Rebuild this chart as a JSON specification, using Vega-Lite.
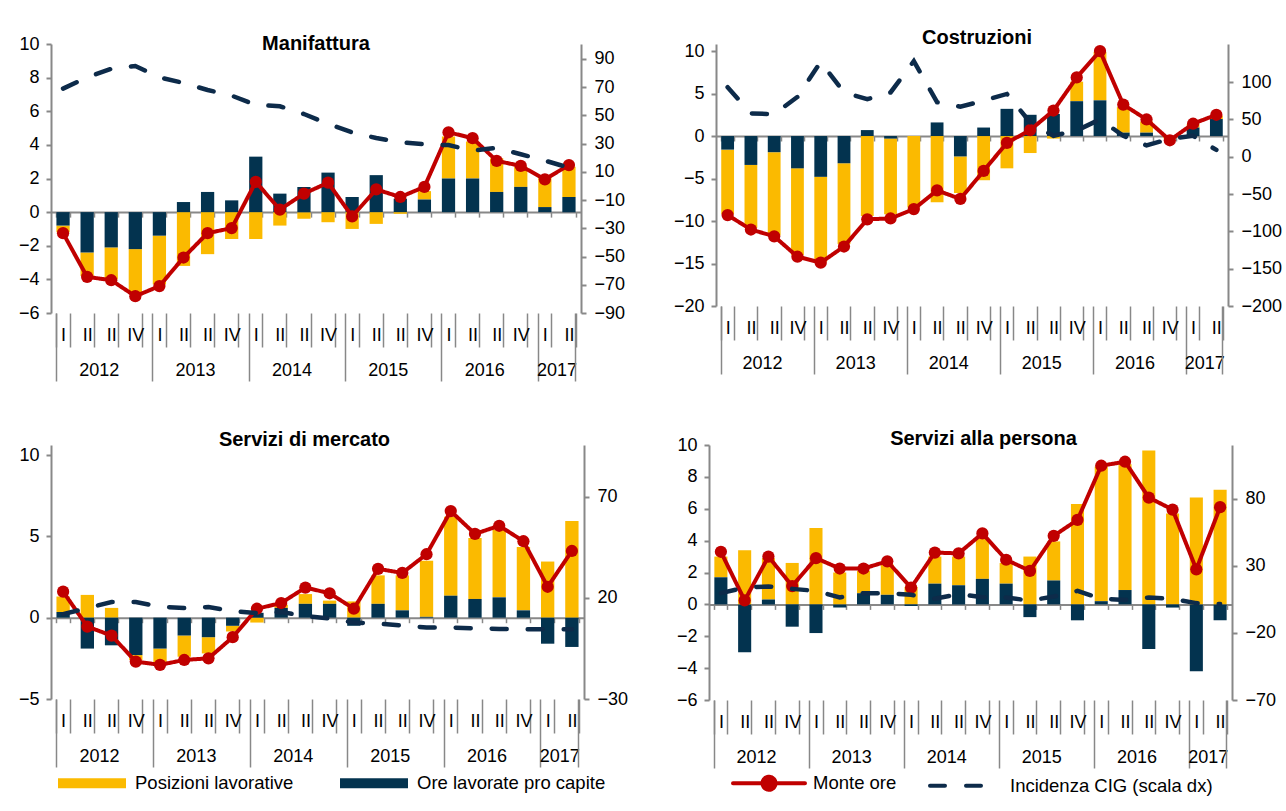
{
"$schema": "https://vega.github.io/schema/vega-lite/v6.json",
"background": "white",
"padding": {"left": 18, "top": 28, "right": 0, "bottom": 0},
"config": {"view": {"stroke": null}, "font": "Liberation Sans", "axis": {"labelFont": "Liberation Sans", "labelColor": "#000", "grid": false}, "legend": {"labelFont": "Liberation Sans", "labelColor": "#000"}},
"datasets": {
"man": [
{"q":"2012-1","pos":-0.4,"ore":-0.8,"monte":-1.25,"cig":69},
{"q":"2012-2","pos":-1.4,"ore":-2.4,"monte":-3.85,"cig":77},
{"q":"2012-3","pos":-1.9,"ore":-2.1,"monte":-4.05,"cig":83},
{"q":"2012-4","pos":-2.6,"ore":-2.2,"monte":-5.0,"cig":85},
{"q":"2013-1","pos":-2.9,"ore":-1.4,"monte":-4.4,"cig":77},
{"q":"2013-2","pos":-3.2,"ore":0.6,"monte":-2.7,"cig":73},
{"q":"2013-3","pos":-2.5,"ore":1.2,"monte":-1.25,"cig":68},
{"q":"2013-4","pos":-1.6,"ore":0.7,"monte":-0.95,"cig":64},
{"q":"2014-1","pos":-1.6,"ore":3.3,"monte":1.8,"cig":57.5},
{"q":"2014-2","pos":-0.8,"ore":1.1,"monte":0.15,"cig":56.5},
{"q":"2014-3","pos":-0.4,"ore":1.5,"monte":1.1,"cig":51},
{"q":"2014-4","pos":-0.6,"ore":2.35,"monte":1.75,"cig":44},
{"q":"2015-1","pos":-1.0,"ore":0.9,"monte":-0.25,"cig":38},
{"q":"2015-2","pos":-0.7,"ore":2.2,"monte":1.35,"cig":34},
{"q":"2015-3","pos":-0.1,"ore":0.8,"monte":0.9,"cig":31},
{"q":"2015-4","pos":0.5,"ore":0.75,"monte":1.5,"cig":29.5},
{"q":"2016-1","pos":2.5,"ore":2.0,"monte":4.75,"cig":29},
{"q":"2016-2","pos":2.2,"ore":2.0,"monte":4.4,"cig":25},
{"q":"2016-3","pos":2.0,"ore":1.2,"monte":3.05,"cig":27},
{"q":"2016-4","pos":1.2,"ore":1.5,"monte":2.75,"cig":22.5},
{"q":"2017-1","pos":1.8,"ore":0.3,"monte":1.95,"cig":18},
{"q":"2017-2","pos":1.8,"ore":0.9,"monte":2.8,"cig":13}
],
"cos": [
{"q":"2012-1","pos":-7.6,"ore":-1.6,"monte":-9.3,"cig":93},
{"q":"2012-2","pos":-7.4,"ore":-3.4,"monte":-11.0,"cig":58},
{"q":"2012-3","pos":-9.8,"ore":-1.9,"monte":-11.8,"cig":57},
{"q":"2012-4","pos":-10.2,"ore":-3.8,"monte":-14.2,"cig":80},
{"q":"2013-1","pos":-10.0,"ore":-4.8,"monte":-14.9,"cig":127},
{"q":"2013-2","pos":-9.5,"ore":-3.2,"monte":-13.0,"cig":86},
{"q":"2013-3","pos":-9.4,"ore":0.7,"monte":-9.8,"cig":77},
{"q":"2013-4","pos":-8.9,"ore":-0.3,"monte":-9.7,"cig":86},
{"q":"2014-1","pos":-8.4,"ore":0.0,"monte":-8.6,"cig":128},
{"q":"2014-2","pos":-7.8,"ore":1.6,"monte":-6.4,"cig":73},
{"q":"2014-3","pos":-4.3,"ore":-2.4,"monte":-7.4,"cig":67},
{"q":"2014-4","pos":-5.2,"ore":1.0,"monte":-4.1,"cig":75},
{"q":"2015-1","pos":-3.8,"ore":3.2,"monte":-0.8,"cig":84},
{"q":"2015-2","pos":-2.0,"ore":2.5,"monte":0.7,"cig":46},
{"q":"2015-3","pos":-0.3,"ore":2.6,"monte":3.0,"cig":28},
{"q":"2015-4","pos":2.3,"ore":4.1,"monte":6.9,"cig":35},
{"q":"2016-1","pos":5.7,"ore":4.2,"monte":10.0,"cig":50},
{"q":"2016-2","pos":3.0,"ore":0.4,"monte":3.7,"cig":28},
{"q":"2016-3","pos":1.3,"ore":0.4,"monte":1.95,"cig":15},
{"q":"2016-4","pos":-0.3,"ore":0.0,"monte":-0.5,"cig":24},
{"q":"2017-1","pos":0.4,"ore":1.0,"monte":1.45,"cig":28},
{"q":"2017-2","pos":0.4,"ore":2.0,"monte":2.5,"cig":9}
],
"sdm": [
{"q":"2012-1","pos":0.95,"ore":0.35,"monte":1.6,"cig":12},
{"q":"2012-2","pos":1.4,"ore":-1.9,"monte":-0.55,"cig":15},
{"q":"2012-3","pos":0.6,"ore":-1.7,"monte":-1.1,"cig":18},
{"q":"2012-4","pos":-0.3,"ore":-2.3,"monte":-2.7,"cig":18},
{"q":"2013-1","pos":-0.9,"ore":-1.9,"monte":-2.9,"cig":15.7},
{"q":"2013-2","pos":-1.3,"ore":-1.1,"monte":-2.6,"cig":15},
{"q":"2013-3","pos":-1.0,"ore":-1.2,"monte":-2.5,"cig":15.5},
{"q":"2013-4","pos":-0.35,"ore":-0.5,"monte":-1.2,"cig":13.5},
{"q":"2014-1","pos":-0.3,"ore":0.3,"monte":0.55,"cig":12.5},
{"q":"2014-2","pos":0.2,"ore":0.6,"monte":0.9,"cig":13},
{"q":"2014-3","pos":0.6,"ore":0.85,"monte":1.85,"cig":11},
{"q":"2014-4","pos":0.2,"ore":0.85,"monte":1.5,"cig":9.8},
{"q":"2015-1","pos":1.0,"ore":-0.5,"monte":0.55,"cig":7.8},
{"q":"2015-2","pos":1.75,"ore":0.85,"monte":3.0,"cig":7.3},
{"q":"2015-3","pos":2.15,"ore":0.45,"monte":2.75,"cig":6.3},
{"q":"2015-4","pos":3.45,"ore":0.05,"monte":3.9,"cig":5.4},
{"q":"2016-1","pos":4.85,"ore":1.35,"monte":6.55,"cig":5.4},
{"q":"2016-2","pos":3.75,"ore":1.15,"monte":5.15,"cig":5},
{"q":"2016-3","pos":4.15,"ore":1.25,"monte":5.65,"cig":4.7},
{"q":"2016-4","pos":3.9,"ore":0.45,"monte":4.7,"cig":4.5},
{"q":"2017-1","pos":3.45,"ore":-1.6,"monte":1.9,"cig":4.6},
{"q":"2017-2","pos":5.95,"ore":-1.8,"monte":4.1,"cig":4.5}
],
"sap": [
{"q":"2012-1","pos":1.3,"ore":1.7,"monte":3.3,"cig":9.6},
{"q":"2012-2","pos":3.4,"ore":-3.0,"monte":0.25,"cig":13.8},
{"q":"2012-3","pos":2.6,"ore":0.3,"monte":3.0,"cig":14.6},
{"q":"2012-4","pos":2.6,"ore":-1.4,"monte":1.15,"cig":12.8},
{"q":"2013-1","pos":4.8,"ore":-1.8,"monte":2.9,"cig":11.3},
{"q":"2013-2","pos":2.0,"ore":-0.2,"monte":2.25,"cig":6.4},
{"q":"2013-3","pos":1.4,"ore":0.7,"monte":2.25,"cig":9.6},
{"q":"2013-4","pos":1.9,"ore":0.6,"monte":2.7,"cig":9.6},
{"q":"2014-1","pos":1.1,"ore":-0.1,"monte":1.05,"cig":8.4},
{"q":"2014-2","pos":1.7,"ore":1.3,"monte":3.25,"cig":5.4},
{"q":"2014-3","pos":1.8,"ore":1.2,"monte":3.2,"cig":8.9},
{"q":"2014-4","pos":2.55,"ore":1.6,"monte":4.45,"cig":6.6},
{"q":"2015-1","pos":1.3,"ore":1.3,"monte":2.8,"cig":6.3},
{"q":"2015-2","pos":3.0,"ore":-0.8,"monte":2.1,"cig":4.1},
{"q":"2015-3","pos":2.45,"ore":1.5,"monte":4.3,"cig":7.1},
{"q":"2015-4","pos":6.3,"ore":-1.0,"monte":5.3,"cig":11.3},
{"q":"2016-1","pos":8.45,"ore":0.2,"monte":8.7,"cig":5.4},
{"q":"2016-2","pos":7.9,"ore":0.9,"monte":8.95,"cig":4.6},
{"q":"2016-3","pos":9.65,"ore":-2.8,"monte":6.7,"cig":6.3},
{"q":"2016-4","pos":5.7,"ore":-0.2,"monte":5.95,"cig":5.4},
{"q":"2017-1","pos":6.7,"ore":-4.2,"monte":2.2,"cig":2.2},
{"q":"2017-2","pos":7.2,"ore":-1.0,"monte":6.1,"cig":1.5}
]
},
"vconcat": [
{"hconcat": [
{
"width": 530, "height": 269,
"data": {"name": "man"},
"title": {"text": "Manifattura", "offset": -29, "dx": 0, "baseline": "middle", "anchor": "middle", "fontSize": 20, "fontWeight": "bold", "font": "Liberation Sans", "color": "#000"},
"layer": [
{"transform": [{"fold": ["pos", "ore"], "as": ["s", "v"]}],
 "mark": {"type": "bar"},
 "encoding": {
  "x": {"field": "q", "type": "ordinal", "title": null, "scale": {"paddingInner": 0.45, "paddingOuter": 0.225},
        "axis": {"orient": "bottom", "domain": false, "tickBand": "extent", "tickSize": 34, "tickWidth": 1.5, "tickColor": "#888", "labelPadding": -21, "labelAngle": 0, "labelExpr": "['I','II','II','IV'][toNumber(substring(datum.value,5,6))-1]", "labelFontSize": 18, "labelOverlap": false}},
  "y": {"field": "v", "type": "quantitative", "stack": "zero", "title": null, "scale": {"domain": [-6, 10], "nice": false, "zero": false},
        "axis": {"orient": "left", "values": [-6,-4,-2,0,2,4,6,8,10], "domain": true, "domainColor": "#888", "domainWidth": 2, "tickSize": 5, "tickWidth": 2, "tickColor": "#888", "labelPadding": 7, "labelFontSize": 18, "labelFlush": false, "labelOverlap": false}},
  "fill": {"field": "s", "type": "nominal", "scale": {"domain": ["pos", "ore"], "range": ["#fbba00", "#03334f"]}, "legend": null},
  "order": {"field": "s", "sort": "ascending"}
 }},
{"mark": {"type": "line", "strokeWidth": 4},
 "encoding": {
  "x": {"field": "q", "type": "ordinal", "title": null, "axis": {"orient": "bottom", "offset": -100.9, "domain": true, "domainColor": "#888", "domainWidth": 2, "tickBand": "extent", "tickSize": 5, "tickWidth": 1.5, "tickColor": "#888", "labels": false}},
  "y": {"field": "monte", "type": "quantitative", "scale": {"domain": [-6, 10], "nice": false, "zero": false}, "axis": null},
  "stroke": {"datum": "Monte ore", "scale": {"domain": ["Monte ore", "Incidenza CIG (scala dx)"], "range": ["#c00000", "#0d2b4a"]}, "legend": null},
  "strokeDash": {"datum": "Monte ore", "scale": {"domain": ["Monte ore", "Incidenza CIG (scala dx)"], "range": [[1, 0], [15, 21]]}, "legend": null}
 }},
{"mark": {"type": "point", "filled": true, "size": 150, "color": "#c00000", "opacity": 1},
 "encoding": {
  "x": {"field": "q", "type": "ordinal", "title": null, "axis": {"orient": "bottom", "values": ["2012-1","2013-1","2014-1","2015-1","2016-1","2017-1"], "bandPosition": 0, "domain": false, "tickSize": 68, "tickWidth": 1.5, "tickColor": "#888", "labels": false}},
  "y": {"field": "monte", "type": "quantitative", "scale": {"domain": [-6, 10], "nice": false, "zero": false}, "axis": null}
 }},
{"mark": {"type": "line", "strokeWidth": 4.5, "strokeCap": "round"},
 "encoding": {
  "x": {"field": "q", "type": "ordinal", "title": null, "axis": {"orient": "bottom", "values": ["2012-2","2013-2","2014-2","2015-2","2016-2","2017-1"], "domain": false, "ticks": false, "labelExpr": "substring(datum.value,0,4)", "labelOffset": 12.05, "labelPadding": 48, "labelFontSize": 18, "labelAngle": 0, "labelOverlap": false}},
  "y": {"field": "cig", "type": "quantitative", "title": null, "scale": {"domain": [-90, 100.6], "nice": false, "zero": false},
        "axis": {"orient": "right", "values": [-90,-70,-50,-30,-10,10,30,50,70,90], "domain": true, "domainColor": "#888", "domainWidth": 2, "tickSize": 5, "tickWidth": 2, "tickColor": "#888", "labelPadding": 8, "labelFontSize": 18, "labelFlush": false, "labelOverlap": false}},
  "stroke": {"datum": "Incidenza CIG (scala dx)", "scale": {"domain": ["Monte ore", "Incidenza CIG (scala dx)"], "range": ["#c00000", "#0d2b4a"]}, "legend": null},
  "strokeDash": {"datum": "Incidenza CIG (scala dx)", "scale": {"domain": ["Monte ore", "Incidenza CIG (scala dx)"], "range": [[1, 0], [15, 21]]}, "legend": null}
 }},
{"mark": {"type": "tick", "opacity": 0},
 "encoding": {
  "x": {"field": "q", "type": "ordinal", "title": null, "axis": {"orient": "bottom", "values": ["2017-2"], "bandPosition": 1, "domain": false, "tickSize": 68, "tickWidth": 1.5, "tickColor": "#888", "labels": false}}
 }}
],
"resolve": {"scale": {"y": "independent"}, "axis": {"x": "independent", "y": "independent"}}
},
{
"width": 512, "height": 262,
"data": {"name": "cos"},
"title": {"text": "Costruzioni", "offset": -16, "dx": 5, "baseline": "middle", "anchor": "middle", "fontSize": 20, "fontWeight": "bold", "font": "Liberation Sans", "color": "#000"},
"layer": [
{"transform": [{"fold": ["pos", "ore"], "as": ["s", "v"]}],
 "mark": {"type": "bar"},
 "encoding": {
  "x": {"field": "q", "type": "ordinal", "title": null, "scale": {"paddingInner": 0.45, "paddingOuter": 0.225},
        "axis": {"orient": "bottom", "domain": false, "tickBand": "extent", "tickSize": 34, "tickWidth": 1.5, "tickColor": "#888", "labelPadding": -21, "labelAngle": 0, "labelExpr": "['I','II','II','IV'][toNumber(substring(datum.value,5,6))-1]", "labelFontSize": 18, "labelOverlap": false}},
  "y": {"field": "v", "type": "quantitative", "stack": "zero", "title": null, "scale": {"domain": [-20, 10.83], "nice": false, "zero": false},
        "axis": {"orient": "left", "values": [-20,-15,-10,-5,0,5,10], "domain": true, "domainColor": "#888", "domainWidth": 2, "tickSize": 5, "tickWidth": 2, "tickColor": "#888", "labelPadding": 7, "labelFontSize": 18, "labelFlush": false, "labelOverlap": false}},
  "fill": {"field": "s", "type": "nominal", "scale": {"domain": ["pos", "ore"], "range": ["#fbba00", "#03334f"]}, "legend": null},
  "order": {"field": "s", "sort": "ascending"}
 }},
{"mark": {"type": "line", "strokeWidth": 4},
 "encoding": {
  "x": {"field": "q", "type": "ordinal", "title": null, "axis": {"orient": "bottom", "offset": -170, "domain": true, "domainColor": "#888", "domainWidth": 2, "tickBand": "extent", "tickSize": 5, "tickWidth": 1.5, "tickColor": "#888", "labels": false}},
  "y": {"field": "monte", "type": "quantitative", "scale": {"domain": [-20, 10.83], "nice": false, "zero": false}, "axis": null},
  "stroke": {"datum": "Monte ore", "scale": {"domain": ["Monte ore", "Incidenza CIG (scala dx)"], "range": ["#c00000", "#0d2b4a"]}, "legend": null},
  "strokeDash": {"datum": "Monte ore", "scale": {"domain": ["Monte ore", "Incidenza CIG (scala dx)"], "range": [[1, 0], [15, 21]]}, "legend": null}
 }},
{"mark": {"type": "point", "filled": true, "size": 150, "color": "#c00000", "opacity": 1},
 "encoding": {
  "x": {"field": "q", "type": "ordinal", "title": null, "axis": {"orient": "bottom", "values": ["2012-1","2013-1","2014-1","2015-1","2016-1","2017-1"], "bandPosition": 0, "domain": false, "tickSize": 68, "tickWidth": 1.5, "tickColor": "#888", "labels": false}},
  "y": {"field": "monte", "type": "quantitative", "scale": {"domain": [-20, 10.83], "nice": false, "zero": false}, "axis": null}
 }},
{"mark": {"type": "line", "strokeWidth": 4.5, "strokeCap": "round"},
 "encoding": {
  "x": {"field": "q", "type": "ordinal", "title": null, "axis": {"orient": "bottom", "values": ["2012-2","2013-2","2014-2","2015-2","2016-2","2017-1"], "domain": false, "ticks": false, "labelExpr": "substring(datum.value,0,4)", "labelOffset": 11.64, "labelPadding": 48, "labelFontSize": 18, "labelAngle": 0, "labelOverlap": false}},
  "y": {"field": "cig", "type": "quantitative", "title": null, "scale": {"domain": [-200, 150.9], "nice": false, "zero": false},
        "axis": {"orient": "right", "values": [-200,-150,-100,-50,0,50,100], "domain": true, "domainColor": "#888", "domainWidth": 2, "tickSize": 5, "tickWidth": 2, "tickColor": "#888", "labelPadding": 8, "labelFontSize": 18, "labelFlush": false, "labelOverlap": false}},
  "stroke": {"datum": "Incidenza CIG (scala dx)", "scale": {"domain": ["Monte ore", "Incidenza CIG (scala dx)"], "range": ["#c00000", "#0d2b4a"]}, "legend": null},
  "strokeDash": {"datum": "Incidenza CIG (scala dx)", "scale": {"domain": ["Monte ore", "Incidenza CIG (scala dx)"], "range": [[1, 0], [15, 21]]}, "legend": null}
 }},
{"mark": {"type": "tick", "opacity": 0},
 "encoding": {
  "x": {"field": "q", "type": "ordinal", "title": null, "axis": {"orient": "bottom", "values": ["2017-2"], "bandPosition": 1, "domain": false, "tickSize": 68, "tickWidth": 1.5, "tickColor": "#888", "labels": false}}
 }}
],
"resolve": {"scale": {"y": "independent"}, "axis": {"x": "independent", "y": "independent"}}
}
], "spacing": 135, "bounds": "flush",
"resolve": {"scale": {"fill": "independent", "stroke": "independent", "strokeDash": "independent"}, "legend": {"fill": "independent", "stroke": "independent", "strokeDash": "independent"}}},
{"hconcat": [
{
"width": 533, "height": 254,
"data": {"name": "sdm"},
"title": {"text": "Servizi di mercato", "offset": -15, "dx": -13, "baseline": "middle", "anchor": "middle", "fontSize": 20, "fontWeight": "bold", "font": "Liberation Sans", "color": "#000"},
"layer": [
{"transform": [{"fold": ["pos", "ore"], "as": ["s", "v"]}],
 "mark": {"type": "bar"},
 "encoding": {
  "x": {"field": "q", "type": "ordinal", "title": null, "scale": {"paddingInner": 0.45, "paddingOuter": 0.225},
        "axis": {"orient": "bottom", "domain": false, "tickBand": "extent", "tickSize": 34, "tickWidth": 1.5, "tickColor": "#888", "labelPadding": -21, "labelAngle": 0, "labelExpr": "['I','II','II','IV'][toNumber(substring(datum.value,5,6))-1]", "labelFontSize": 18, "labelOverlap": false}},
  "y": {"field": "v", "type": "quantitative", "stack": "zero", "title": null, "scale": {"domain": [-5, 10.615], "nice": false, "zero": false},
        "axis": {"orient": "left", "values": [-5,0,5,10], "domain": true, "domainColor": "#888", "domainWidth": 2, "tickSize": 5, "tickWidth": 2, "tickColor": "#888", "labelPadding": 7, "labelFontSize": 18, "labelFlush": false, "labelOverlap": false}},
  "fill": {"field": "s", "type": "nominal", "scale": {"domain": ["pos", "ore"], "range": ["#fbba00", "#03334f"]},
           "legend": {"orient": "none", "legendX": 7, "legendY": 304, "direction": "horizontal", "title": null, "padding": 0, "symbolType": "M-1,-0.15L1,-0.15L1,0.15L-1,0.15Z", "symbolSize": 4624, "symbolStrokeWidth": 0, "labelFontSize": 18.5, "labelOffset": 9, "columnPadding": 46, "labelLimit": 400, "labelExpr": "datum.value === 'pos' ? 'Posizioni lavorative' : 'Ore lavorate pro capite'"}},
  "order": {"field": "s", "sort": "ascending"}
 }},
{"mark": {"type": "line", "strokeWidth": 4},
 "encoding": {
  "x": {"field": "q", "type": "ordinal", "title": null, "axis": {"orient": "bottom", "offset": -81.3, "domain": true, "domainColor": "#888", "domainWidth": 2, "tickBand": "extent", "tickSize": 5, "tickWidth": 1.5, "tickColor": "#888", "labels": false}},
  "y": {"field": "monte", "type": "quantitative", "scale": {"domain": [-5, 10.615], "nice": false, "zero": false}, "axis": null},
  "stroke": {"datum": "Monte ore", "scale": {"domain": ["Monte ore", "Incidenza CIG (scala dx)"], "range": ["#c00000", "#0d2b4a"]}, "legend": null},
  "strokeDash": {"datum": "Monte ore", "scale": {"domain": ["Monte ore", "Incidenza CIG (scala dx)"], "range": [[1, 0], [15, 21]]}, "legend": null}
 }},
{"mark": {"type": "point", "filled": true, "size": 150, "color": "#c00000", "opacity": 1},
 "encoding": {
  "x": {"field": "q", "type": "ordinal", "title": null, "axis": {"orient": "bottom", "values": ["2012-1","2013-1","2014-1","2015-1","2016-1","2017-1"], "bandPosition": 0, "domain": false, "tickSize": 68, "tickWidth": 1.5, "tickColor": "#888", "labels": false}},
  "y": {"field": "monte", "type": "quantitative", "scale": {"domain": [-5, 10.615], "nice": false, "zero": false}, "axis": null}
 }},
{"mark": {"type": "line", "strokeWidth": 4.5, "strokeCap": "round"},
 "encoding": {
  "x": {"field": "q", "type": "ordinal", "title": null, "axis": {"orient": "bottom", "values": ["2012-2","2013-2","2014-2","2015-2","2016-2","2017-1"], "domain": false, "ticks": false, "labelExpr": "substring(datum.value,0,4)", "labelOffset": 12.11, "labelPadding": 48, "labelFontSize": 18, "labelAngle": 0, "labelOverlap": false}},
  "y": {"field": "cig", "type": "quantitative", "title": null, "scale": {"domain": [-30, 95.7], "nice": false, "zero": false},
        "axis": {"orient": "right", "values": [-30,20,70], "domain": true, "domainColor": "#888", "domainWidth": 2, "tickSize": 5, "tickWidth": 2, "tickColor": "#888", "labelPadding": 8, "labelFontSize": 18, "labelFlush": false, "labelOverlap": false}},
  "stroke": {"datum": "Incidenza CIG (scala dx)", "scale": {"domain": ["Monte ore", "Incidenza CIG (scala dx)"], "range": ["#c00000", "#0d2b4a"]}, "legend": null},
  "strokeDash": {"datum": "Incidenza CIG (scala dx)", "scale": {"domain": ["Monte ore", "Incidenza CIG (scala dx)"], "range": [[1, 0], [15, 21]]}, "legend": null}
 }},
{"mark": {"type": "tick", "opacity": 0},
 "encoding": {
  "x": {"field": "q", "type": "ordinal", "title": null, "axis": {"orient": "bottom", "values": ["2017-2"], "bandPosition": 1, "domain": false, "tickSize": 68, "tickWidth": 1.5, "tickColor": "#888", "labels": false}}
 }}
],
"resolve": {"scale": {"y": "independent"}, "axis": {"x": "independent", "y": "independent"}}
},
{
"width": 523, "height": 255,
"data": {"name": "sap"},
"title": {"text": "Servizi alla persona", "offset": -23, "dx": 13, "baseline": "middle", "anchor": "middle", "fontSize": 20, "fontWeight": "bold", "font": "Liberation Sans", "color": "#000"},
"layer": [
{"transform": [{"fold": ["pos", "ore"], "as": ["s", "v"]}],
 "mark": {"type": "bar"},
 "encoding": {
  "x": {"field": "q", "type": "ordinal", "title": null, "scale": {"paddingInner": 0.45, "paddingOuter": 0.225},
        "axis": {"orient": "bottom", "domain": false, "tickBand": "extent", "tickSize": 34, "tickWidth": 1.5, "tickColor": "#888", "labelPadding": -21, "labelAngle": 0, "labelExpr": "['I','II','II','IV'][toNumber(substring(datum.value,5,6))-1]", "labelFontSize": 18, "labelOverlap": false}},
  "y": {"field": "v", "type": "quantitative", "stack": "zero", "title": null, "scale": {"domain": [-6, 10], "nice": false, "zero": false},
        "axis": {"orient": "left", "values": [-6,-4,-2,0,2,4,6,8,10], "domain": true, "domainColor": "#888", "domainWidth": 2, "tickSize": 5, "tickWidth": 2, "tickColor": "#888", "labelPadding": 7, "labelFontSize": 18, "labelFlush": false, "labelOverlap": false}},
  "fill": {"field": "s", "type": "nominal", "scale": {"domain": ["pos", "ore"], "range": ["#fbba00", "#03334f"]}, "legend": null},
  "order": {"field": "s", "sort": "ascending"}
 }},
{"mark": {"type": "line", "strokeWidth": 4},
 "encoding": {
  "x": {"field": "q", "type": "ordinal", "title": null, "axis": {"orient": "bottom", "offset": -95.6, "domain": true, "domainColor": "#888", "domainWidth": 2, "tickBand": "extent", "tickSize": 5, "tickWidth": 1.5, "tickColor": "#888", "labels": false}},
  "y": {"field": "monte", "type": "quantitative", "scale": {"domain": [-6, 10], "nice": false, "zero": false}, "axis": null},
  "stroke": {"datum": "Monte ore", "scale": {"domain": ["Monte ore", "Incidenza CIG (scala dx)"], "range": ["#c00000", "#0d2b4a"]},
             "legend": {"orient": "none", "legendX": 22, "legendY": 300, "direction": "horizontal", "title": null, "padding": 0, "symbolType": "M-1,0L1,0", "symbolSize": 5184, "symbolStrokeWidth": 4, "labelFontSize": 18.5, "labelOffset": 6, "columnPadding": 25, "labelLimit": 400,
                        "encode": {"symbols": {"update": {"shape": {"signal": "datum.value === 'Monte ore' ? 'M-1,0L1,0M-0.18,0A0.18,0.18,0,1,0,0.18,0A0.18,0.18,0,1,0,-0.18,0Z' : 'M-1,0L1,0'"}, "fill": {"signal": "datum.value === 'Monte ore' ? '#c00000' : 'transparent'"}, "strokeCap": {"value": "round"}}}}}},
  "strokeDash": {"datum": "Monte ore", "scale": {"domain": ["Monte ore", "Incidenza CIG (scala dx)"], "range": [[1, 0], [15, 21]]},
             "legend": {"orient": "none", "legendX": 22, "legendY": 300, "direction": "horizontal", "title": null, "padding": 0, "symbolType": "M-1,0L1,0", "symbolSize": 5184, "symbolStrokeWidth": 4, "labelFontSize": 18.5, "labelOffset": 6, "columnPadding": 25, "labelLimit": 400,
                        "encode": {"symbols": {"update": {"shape": {"signal": "datum.value === 'Monte ore' ? 'M-1,0L1,0M-0.18,0A0.18,0.18,0,1,0,0.18,0A0.18,0.18,0,1,0,-0.18,0Z' : 'M-1,0L1,0'"}, "fill": {"signal": "datum.value === 'Monte ore' ? '#c00000' : 'transparent'"}, "strokeCap": {"value": "round"}}}}}}
 }},
{"mark": {"type": "point", "filled": true, "size": 150, "color": "#c00000", "opacity": 1},
 "encoding": {
  "x": {"field": "q", "type": "ordinal", "title": null, "axis": {"orient": "bottom", "values": ["2012-1","2013-1","2014-1","2015-1","2016-1","2017-1"], "bandPosition": 0, "domain": false, "tickSize": 68, "tickWidth": 1.5, "tickColor": "#888", "labels": false}},
  "y": {"field": "monte", "type": "quantitative", "scale": {"domain": [-6, 10], "nice": false, "zero": false}, "axis": null}
 }},
{"mark": {"type": "line", "strokeWidth": 4.5, "strokeCap": "round"},
 "encoding": {
  "x": {"field": "q", "type": "ordinal", "title": null, "axis": {"orient": "bottom", "values": ["2012-2","2013-2","2014-2","2015-2","2016-2","2017-1"], "domain": false, "ticks": false, "labelExpr": "substring(datum.value,0,4)", "labelOffset": 11.89, "labelPadding": 48, "labelFontSize": 18, "labelAngle": 0, "labelOverlap": false}},
  "y": {"field": "cig", "type": "quantitative", "title": null, "scale": {"domain": [-70, 120], "nice": false, "zero": false},
        "axis": {"orient": "right", "values": [-70,-20,30,80], "domain": true, "domainColor": "#888", "domainWidth": 2, "tickSize": 5, "tickWidth": 2, "tickColor": "#888", "labelPadding": 8, "labelFontSize": 18, "labelFlush": false, "labelOverlap": false}},
  "stroke": {"datum": "Incidenza CIG (scala dx)", "scale": {"domain": ["Monte ore", "Incidenza CIG (scala dx)"], "range": ["#c00000", "#0d2b4a"]},
             "legend": {"orient": "none", "legendX": 22, "legendY": 300, "direction": "horizontal", "title": null, "padding": 0, "symbolType": "M-1,0L1,0", "symbolSize": 5184, "symbolStrokeWidth": 4, "labelFontSize": 18.5, "labelOffset": 6, "columnPadding": 25, "labelLimit": 400,
                        "encode": {"symbols": {"update": {"shape": {"signal": "datum.value === 'Monte ore' ? 'M-1,0L1,0M-0.18,0A0.18,0.18,0,1,0,0.18,0A0.18,0.18,0,1,0,-0.18,0Z' : 'M-1,0L1,0'"}, "fill": {"signal": "datum.value === 'Monte ore' ? '#c00000' : 'transparent'"}, "strokeCap": {"value": "round"}}}}}},
  "strokeDash": {"datum": "Incidenza CIG (scala dx)", "scale": {"domain": ["Monte ore", "Incidenza CIG (scala dx)"], "range": [[1, 0], [15, 21]]},
             "legend": {"orient": "none", "legendX": 22, "legendY": 300, "direction": "horizontal", "title": null, "padding": 0, "symbolType": "M-1,0L1,0", "symbolSize": 5184, "symbolStrokeWidth": 4, "labelFontSize": 18.5, "labelOffset": 6, "columnPadding": 25, "labelLimit": 400,
                        "encode": {"symbols": {"update": {"shape": {"signal": "datum.value === 'Monte ore' ? 'M-1,0L1,0M-0.18,0A0.18,0.18,0,1,0,0.18,0A0.18,0.18,0,1,0,-0.18,0Z' : 'M-1,0L1,0'"}, "fill": {"signal": "datum.value === 'Monte ore' ? '#c00000' : 'transparent'"}, "strokeCap": {"value": "round"}}}}}}
 }},
{"mark": {"type": "tick", "opacity": 0},
 "encoding": {
  "x": {"field": "q", "type": "ordinal", "title": null, "axis": {"orient": "bottom", "values": ["2017-2"], "bandPosition": 1, "domain": false, "tickSize": 68, "tickWidth": 1.5, "tickColor": "#888", "labels": false}}
 }}
],
"resolve": {"scale": {"y": "independent"}, "axis": {"x": "independent", "y": "independent"}}
}
], "spacing": 125, "bounds": "flush",
"resolve": {"scale": {"fill": "independent", "stroke": "independent", "strokeDash": "independent"}, "legend": {"fill": "independent", "stroke": "independent", "strokeDash": "independent"}}}
],
"spacing": 47,
"resolve": {"scale": {"fill": "independent", "stroke": "independent", "strokeDash": "independent"}, "legend": {"fill": "independent", "stroke": "independent", "strokeDash": "independent"}}
}
